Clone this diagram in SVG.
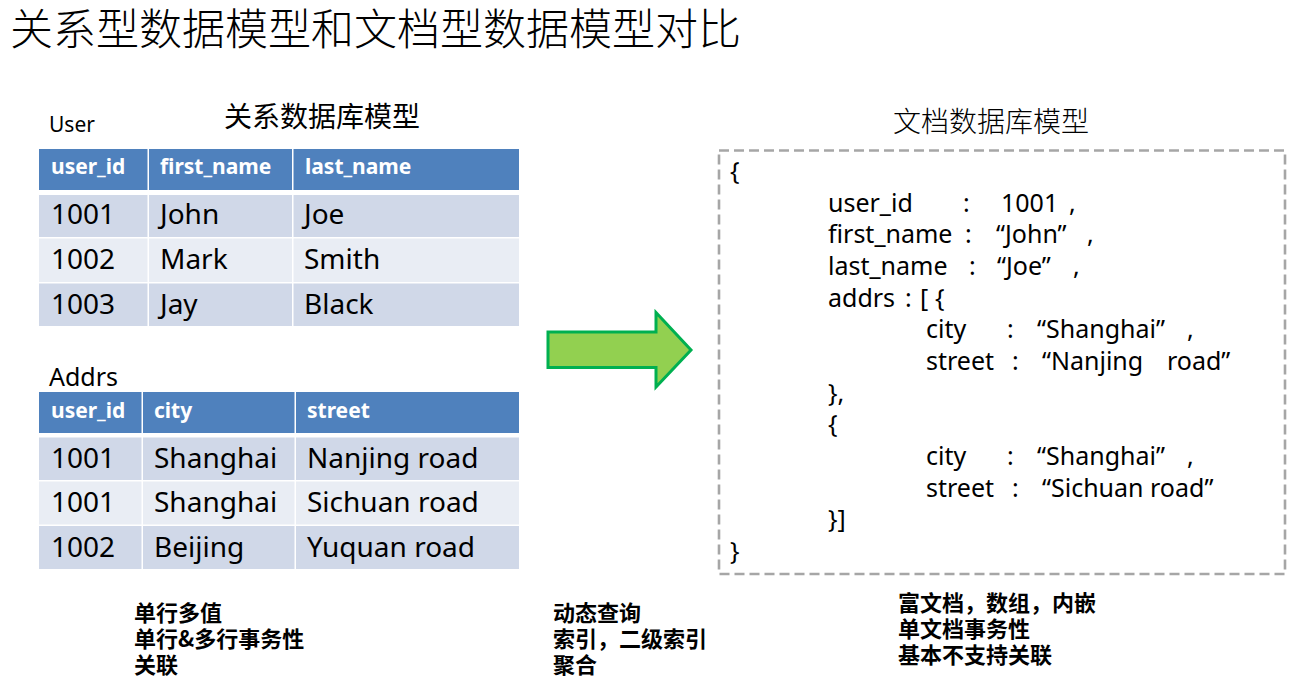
<svg xmlns="http://www.w3.org/2000/svg" width="1313" height="689" viewBox="0 0 1313 689">
  <style>
    .title { font-family: "Noto Sans CJK SC", "Noto Sans", sans-serif; font-size: 43px; font-weight: 300; fill: #000; }
    .sub { font-family: "Noto Sans CJK SC", "Noto Sans", sans-serif; font-size: 28px; fill: #000; }
    .sub-light { font-family: "Noto Sans CJK SC", "Noto Sans", sans-serif; font-size: 28px; font-weight: 300; fill: #000; }
    .tname { font-family: "Noto Sans", "Noto Sans CJK SC", sans-serif; fill: #000; }
    .hdr-bg { fill: #4F81BD; }
    .row-dark { fill: #D0D8E8; }
    .row-light { fill: #E9EDF4; }
    .sep { fill: #FFFFFF; }
    .hdr { font-family: "Noto Sans", "Open Sans", sans-serif; font-size: 21px; font-weight: bold; fill: #FFFFFF; }
    .cell { font-family: "Noto Sans", "Open Sans", sans-serif; font-size: 28px; fill: #000; }
    .doc-box { fill: none; stroke: #A6A6A6; stroke-width: 2.6; stroke-dasharray: 10 5; }
    .doc { font-family: "Noto Sans", "Open Sans", sans-serif; font-size: 25px; fill: #000; }
    .note { font-family: "Noto Sans CJK SC", "Noto Sans", sans-serif; font-size: 22px; font-weight: bold; fill: #000; }
    .block-arrow { fill: #92D050; stroke: #00B050; stroke-width: 3; stroke-linejoin: miter; }
  </style>

  <!-- page heading -->
  <text class="title" x="10" y="45">关系型数据模型和文档型数据模型对比</text>

  <!-- relational model: User table -->
  <g id="user-table">
    <text class="sub" x="224" y="127">关系数据库模型</text>
    <text class="tname" x="49" y="132" font-size="21">User</text>
    <rect class="hdr-bg" x="39" y="149" width="480" height="41"/>
    <rect class="row-dark" x="39" y="195" width="480" height="42"/>
    <rect class="row-light" x="39" y="238.5" width="480" height="43.5"/>
    <rect class="row-dark" x="39" y="283.5" width="480" height="42.5"/>
    <rect class="sep" x="147.5" y="149" width="1.5" height="177"/>
    <rect class="sep" x="292" y="149" width="1.5" height="177"/>
    <text class="hdr" x="51" y="174">user_id</text>
    <text class="hdr" x="160" y="174">first_name</text>
    <text class="hdr" x="305" y="174">last_name</text>
    <text class="cell" x="51" y="224">1001</text>
    <text class="cell" x="160" y="224">John</text>
    <text class="cell" x="304" y="224">Joe</text>
    <text class="cell" x="51" y="269">1002</text>
    <text class="cell" x="160" y="269">Mark</text>
    <text class="cell" x="304" y="269">Smith</text>
    <text class="cell" x="51" y="314">1003</text>
    <text class="cell" x="160" y="314">Jay</text>
    <text class="cell" x="304" y="314">Black</text>
  </g>

  <!-- relational model: Addrs table -->
  <g id="addrs-table">
    <text class="tname" x="49" y="386" font-size="25">Addrs</text>
    <rect class="hdr-bg" x="39" y="392" width="480" height="41"/>
    <rect class="row-dark" x="39" y="437.5" width="480" height="42.5"/>
    <rect class="row-light" x="39" y="481.5" width="480" height="43"/>
    <rect class="row-dark" x="39" y="526" width="480" height="43"/>
    <rect class="sep" x="141.5" y="392" width="1.5" height="177"/>
    <rect class="sep" x="294.5" y="392" width="1.5" height="177"/>
    <text class="hdr" x="51" y="418">user_id</text>
    <text class="hdr" x="154" y="418">city</text>
    <text class="hdr" x="307" y="418">street</text>
    <text class="cell" x="51" y="468">1001</text>
    <text class="cell" x="154" y="468">Shanghai</text>
    <text class="cell" x="307" y="468">Nanjing road</text>
    <text class="cell" x="51" y="512">1001</text>
    <text class="cell" x="154" y="512">Shanghai</text>
    <text class="cell" x="307" y="512">Sichuan road</text>
    <text class="cell" x="51" y="557">1002</text>
    <text class="cell" x="154" y="557">Beijing</text>
    <text class="cell" x="307" y="557">Yuquan road</text>
  </g>

  <!-- transformation arrow -->
  <g id="connectors">
    <polygon class="block-arrow" points="548,332 656,332 656,312.5 691,350 656,387 656,367.5 548,367.5"/>
  </g>

  <!-- document model -->
  <g id="document">
    <text class="sub-light" x="893" y="132">文档数据库模型</text>
    <rect class="doc-box" x="719" y="150.5" width="566" height="423.5"/>
    <text class="doc">
      <tspan x="730" y="180">{</tspan>
      <tspan x="828" y="212">user_id</tspan><tspan x="963" y="212">:</tspan><tspan x="1001" y="212">1001</tspan><tspan x="1069" y="212">,</tspan>
      <tspan x="828" y="243">first_name</tspan><tspan x="965" y="243">:</tspan><tspan x="996" y="243">“John”</tspan><tspan x="1087" y="243">,</tspan>
      <tspan x="828" y="275">last_name</tspan><tspan x="969" y="275">:</tspan><tspan x="997" y="275">“Joe”</tspan><tspan x="1073" y="275">,</tspan>
      <tspan x="828" y="307">addrs</tspan><tspan x="905" y="307">:</tspan><tspan x="920" y="307">[</tspan><tspan x="935" y="307">{</tspan>
      <tspan x="926" y="338">city</tspan><tspan x="1007" y="338">:</tspan><tspan x="1037" y="338">“Shanghai”</tspan><tspan x="1187" y="338">,</tspan>
      <tspan x="926" y="370">street</tspan><tspan x="1012" y="370">:</tspan><tspan x="1042" y="370">“Nanjing</tspan><tspan x="1167" y="370">road”</tspan>
      <tspan x="828" y="402">},</tspan>
      <tspan x="828" y="433">{</tspan>
      <tspan x="926" y="465">city</tspan><tspan x="1007" y="465">:</tspan><tspan x="1037" y="465">“Shanghai”</tspan><tspan x="1187" y="465">,</tspan>
      <tspan x="926" y="497">street</tspan><tspan x="1012" y="497">:</tspan><tspan x="1042" y="497">“Sichuan road”</tspan>
      <tspan x="828" y="528">}]</tspan>
      <tspan x="730" y="560">}</tspan>
    </text>
  </g>

  <!-- feature notes -->
  <g id="notes-relational">
    <text class="note"><tspan x="134" y="621">单行多值</tspan><tspan x="134" y="647">单行&amp;多行事务性</tspan><tspan x="134" y="673">关联</tspan></text>
  </g>
  <g id="notes-query">
    <text class="note"><tspan x="553" y="621">动态查询</tspan><tspan x="553" y="647">索引，二级索引</tspan><tspan x="553" y="673">聚合</tspan></text>
  </g>
  <g id="notes-document">
    <text class="note"><tspan x="898" y="611">富文档，数组，内嵌</tspan><tspan x="898" y="637">单文档事务性</tspan><tspan x="898" y="663">基本不支持关联</tspan></text>
  </g>
</svg>
